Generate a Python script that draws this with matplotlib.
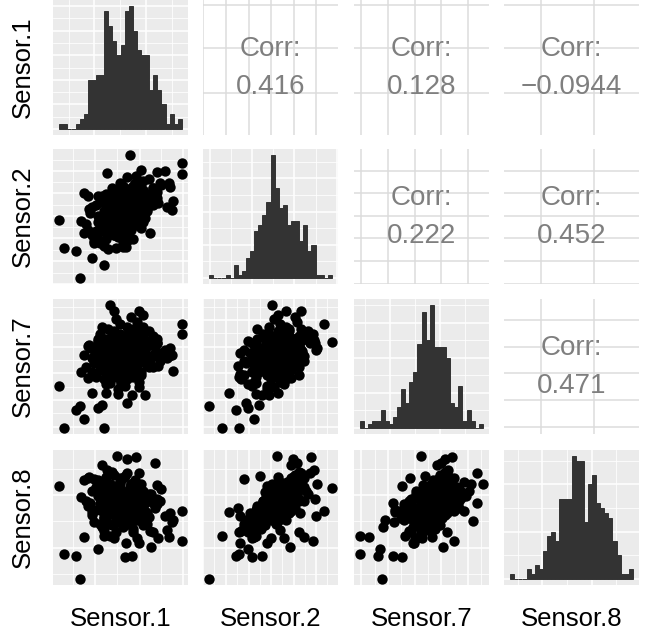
import matplotlib
matplotlib.use("Agg")
import matplotlib.pyplot as plt

plt.rcParams["font.family"] = ["Liberation Sans", "DejaVu Sans"]

labels = ["Sensor.1", "Sensor.2", "Sensor.7", "Sensor.8"]

# standardised readings, one value per sample (same order in every list)
sensor_1 = [
    0.0, 0.5, -0.6, 1.2, -1.1, 0.3, -0.2, 0.8, -0.9, 1.6,
    -1.5, 0.1, 0.6, -0.4, 1.0, -0.8, 0.2, 1.4, -0.3, 0.7,
    -1.3, 0.4, -0.1, 1.8, -0.7, 0.9, -0.5, 0.0, 1.1, -1.0,
    0.3, -0.2, 0.6, -1.7, 1.3, -0.4, 0.1, 0.8, -0.9, 0.5,
    -0.1, 1.5, -1.2, 0.2, -0.6, 1.0, -0.3, 0.7, -1.4, 0.4,
    -0.8, 1.2, 0.0, -0.5, 0.9, -0.2, 1.7, -1.0, 0.3, -0.7,
    0.6, -1.6, 1.1, -0.4, 0.2, 2.0, -0.9, 0.5, -0.1, 0.8,
    -1.2, 0.0, 1.4, -0.3, 0.6, -0.6, 1.0, -1.8, 0.4, -0.5,
    0.9, -0.2, 0.1, 1.3, -1.1, 0.7, -0.8, 0.2, 1.6, -0.4,
    0.5, -1.3, 0.0, 1.1, -0.7, 0.3, -0.1, 0.8, -1.5, 0.6,
    -2.11, -3.17, -2.91, -2.32, -2.04, -1.5, -1.2, -0.30, 0.54, 0.2,
    1.52, 3.07, 3.07, 0.45, -0.22, 0.76, 0.3, -0.56, 0.9, -0.4,
    1.1, -1.0, 0.3, -0.8, -1.7, 1.2, -0.6, 0.8, -1.9, -0.9,
    -0.7, 0.1, -1.1, -1.4, 0.2, 2.2, 1.6, 2.4, 1.0, 2.56,
    1.46, 1.80, -1.90, -0.72, 2.47, 1.97, 0.25, 1.72, -0.97, 2.64,
    2.31, -0.39, 0.87, 1.88, -1.65, 1.80,
    0.3, -0.3, 0.1, 0.7, -0.5, 0.0, 0.9, -0.8, 0.4, -0.2,
    1.1, -1.0, 0.5, -0.4, 0.2, 0.8, -0.6, 1.3, -0.1, 0.6,
    -1.2, 0.0, 0.4, -0.7, 1.0, -0.3, 0.2, 0.7, -0.9, 0.1,
    1.2, -0.5, 0.5, -0.1, 0.9, -0.7, 0.3, -1.1, 0.6, 0.0,
    1.4, -0.4, 0.2, 0.8, -0.6, 0.4, -0.2, 1.0, -0.8, 0.5,
    0.1, -0.3, 0.7, -0.9, 0.3, 1.1, -0.5, 0.6, -0.1, 0.9,
]
sensor_2 = [
    0.1, 0.6, -0.5, 0.9, -0.8, -0.2, 0.7, 0.2, 0.1, 1.3,
    -1.2, -0.9, 1.4, 0.3, -0.3, -1.4, 0.4, 0.5, -0.6, 1.0,
    0.4, -1.0, 1.6, 0.8, -0.1, 0.3, -1.1, 0.9, 1.7, -0.3,
    0.0, -0.4, -0.7, -0.9, 0.1, 1.1, -1.6, 1.2, -0.7, 0.2,
    -0.2, 0.7, -0.5, 0.6, 0.8, -0.8, 0.0, 1.5, -1.5, 0.4,
    0.2, 1.0, -0.5, 0.5, 0.0, -1.3, 1.1, 0.6, 1.9, -0.9,
    -0.1, 0.0, 0.4, -0.8, 0.8, 1.5, -1.8, 0.9, 0.3, -0.4,
    0.9, -1.1, 1.8, 0.1, 0.5, -0.3, 1.3, -0.6, -0.6, 1.3,
    0.6, -1.0, 0.0, 0.2, -0.4, 0.0, 1.0, -0.3, 0.4, -1.2,
    1.1, -1.0, 0.5, -0.5, 0.4, -0.7, 1.2, 0.8, 0.3, -1.4,
    -3.48, -0.39, -1.90, -2.03, -0.45, -2.44, -1.4, -1.90, -0.65, -1.2,
    0.84, 2.04, 2.63, 3.07, 0.13, 1.95, 1.0, -0.14, 1.4, 0.6,
    0.2, -0.8, -1.5, 0.2, 0.9, -0.3, -1.0, -0.2, -1.1, -2.8,
    -1.95, -1.85, -1.64, -1.64, -0.79, 2.22, 1.33, 1.6, 2.30, 0.14,
    -1.10, 2.18, 1.03, 2.10, 1.38, 1.56, -1.82, 1.2, 0.9, 0.6,
    0.3, -1.2, -0.4, 0.5, 0.2, 1.1,
    0.4, -0.1, 0.7, 0.3, -0.6, -0.3, 1.1, -0.2, -0.4, 0.2,
    0.7, -1.0, 1.3, 0.6, -0.8, 0.0, 0.1, 0.8, -0.7, 0.9,
    -0.2, 0.2, 1.0, -1.2, 0.5, 0.4, -0.1, -0.6, 0.5, 1.4,
    0.2, -0.9, 0.0, 0.9, -0.2, 0.3, 0.6, -0.6, 1.2, -0.5,
    1.0, -0.3, 0.3, 0.6, -0.4, 0.8, 0.0, 0.1, 0.7, -0.9,
    0.1, 0.8, 1.6, -0.8, -0.2, 1.2, 0.2, 0.4, -0.4, 0.9,
]
sensor_7 = [
    0.3, -0.3, 0.6, 0.45, -0.75, -1.35, 1.2, 0.75, 0.9, 0.15,
    0.0, -0.9, 1.8, -0.45, 1.05, -1.65, 0.0, -0.6, 1.35, 0.6,
    0.3, 0.15, 1.5, 0.9, -1.2, -1.5, 0.45, -0.75, 1.35, 1.95,
    0.9, -1.95, 0.3, 0.75, -0.3, 0.6, -1.05, 2.25, -0.15, 1.65,
    -0.6, 0.0, 1.2, -1.35, 0.15, -0.9, 2.4, 0.45, -0.3, 1.05,
    -1.05, -0.15, 0.75, 1.5, -1.8, 0.3, 1.2, -0.45, 0.9, 1.8,
    -1.2, 0.6, 1.95, -0.75, 1.35, 0.3, -1.35, -0.45, 2.1, 0.0,
    1.05, -1.5, 1.65, -0.3, 0.6, 0.0, -1.05, -0.6, 1.5, 0.9,
    1.35, -2.25, 0.45, 0.75, 1.5, -0.75, 1.2, -0.15, 1.35, 0.9,
    2.55, -1.2, -1.65, 0.6, 0.75, -0.45, 0.0, 1.8, -0.9, 1.05,
    -3.03, -1.78, -4.38, -3.28, -0.9, -2.2, -3.13, -1.2, -2.34, -1.78,
    0.8, 1.49, 2.1, 1.0, -0.59, 1.35, 0.93, 3.29, 2.91, 2.95,
    2.7, -2.93, -2.82, -2.19, -1.26, -2.3, -1.57, -0.94, -3.8, -4.38,
    -0.5, 0.3, -0.2, 0.5, -0.3, 0.5, -0.6, 0.1, 0.6, 0.2,
    -0.4, 0.9, 0.2, 1.1, 0.6, -0.2, -1.0, 0.7, 0.4, -0.8,
    0.0, -0.8, -1.1, -0.5, 0.8, 1.2,
    0.15, 0.45, 0.75, -0.15, -0.3, 1.05, 0.3, 0.15, -0.9, -1.2,
    0.9, 0.45, 1.35, 1.65, 0.6, 1.2, -0.6, -0.45, -0.3, 0.0,
    0.9, 1.35, -0.6, -0.9, 1.5, 0.75, -0.75, 0.45, 0.0, 1.05,
    0.6, 1.2, 0.3, 0.3, -1.05, 0.6, 1.95, -0.15, 0.75, -0.45,
    1.05, 1.5, -0.3, 0.15, 0.9, 1.65, 0.0, 0.75, 0.45, -0.6,
    0.9, -0.15, 1.2, 0.3, 1.35, 0.45, -0.9, 0.9, 0.6, -0.3,
]
sensor_8 = [
    0.3, 0.1, 0.0, -0.4, -0.2, -0.8, 1.1, 0.4, 0.9, 0.2,
    -0.6, -1.0, 0.9, 0.5, -0.5, -0.9, 0.7, -0.7, 0.2, 1.3,
    1.0, -0.9, 1.5, 0.0, 0.3, -0.3, -1.2, 0.6, 0.8, 0.4,
    -0.1, -0.4, -1.4, -0.1, -1.1, 1.7, -1.3, 0.5, -0.7, 1.0,
    0.1, 0.6, 0.7, 0.2, 1.2, -0.6, 0.8, 1.4, -1.0, 0.0,
    -0.5, 0.3, -0.3, 0.6, -0.8, -0.5, -0.2, 0.8, 1.8, -0.2,
    0.2, 0.1, 0.7, -1.1, 0.4, 0.9, -1.5, 1.1, 1.3, -0.9,
    1.4, -0.7, 0.6, -0.8, 0.9, 0.5, 0.3, 0.2, -0.4, 1.9,
    -0.1, -1.0, 0.4, -0.8, 0.1, -0.2, 1.6, 0.0, 0.1, -0.6,
    1.2, -0.3, 0.0, -1.2, 0.9, -0.1, 1.0, 0.2, 0.8, -1.6,
    -4.29, 1.07, -2.86, -2.95, 0.45, -0.43, -2.55, -1.6, -2.95, -3.0,
    -2.48, -2.09, -0.35, 0.97, 2.79, 2.75, 2.6, 1.18, 1.80, 0.11,
    -0.98, -1.27, -0.89, -0.31, 1.51, 0.11, -1.84, -1.94, -1.88, -1.84,
    -0.18, -0.66, -1.13, 1.45, 1.64, -0.66, -1.58, -1.9, 1.17, -1.0,
    -1.5, 0.3, 1.4, 2.0, -0.5, 0.2, -2.2, 2.37, 2.28, -0.89,
    -1.46, -1.94, -2.22, -1.94, 1.6, 1.13,
    0.2, -0.2, 0.6, -0.3, -0.5, 0.1, 0.5, 0.4, -0.6, 0.0,
    0.0, -0.4, 1.2, 0.9, -0.7, -0.1, 0.7, -0.5, -0.9, 0.8,
    0.5, 0.3, 0.4, -1.1, 0.3, 1.0, -0.4, -0.8, 1.1, 1.5,
    -0.6, -0.3, 0.0, 1.2, -0.9, 0.2, 0.7, 0.0, 0.9, -0.6,
    0.4, 0.3, 0.5, 0.1, -0.1, 0.8, -0.3, -0.4, 1.3, -1.2,
    0.6, 0.9, 1.0, -0.8, -0.2, 0.2, 0.6, 0.5, -0.5, 0.7,
]
sensors = [sensor_1, sensor_2, sensor_7, sensor_8]

# bar heights of the 30-bin histograms on the diagonal
counts_1 = [1, 1, 0, 0, 1, 2, 3, 10, 10, 11, 11, 24, 21, 18, 15,
            17, 24, 25, 20, 16, 15, 15, 8, 11, 8, 5, 1, 3, 1, 2]
counts_2 = [1, 0, 0, 0, 1, 0, 4, 1, 2, 6, 8, 14, 16, 19, 23,
            37, 27, 21, 22, 16, 17, 17, 11, 16, 8, 10, 1, 1, 0, 1]
counts_7 = [2, 0, 1, 2, 2, 5, 2, 1, 3, 6, 11, 7, 13, 16, 24,
            33, 25, 35, 23, 23, 23, 20, 7, 6, 12, 2, 5, 2, 0, 1]
counts_8 = [1, 0, 0, 0, 2, 1, 3, 2, 6, 9, 10, 8, 17, 17, 17,
            26, 25, 25, 12, 20, 22, 16, 15, 14, 13, 8, 5, 1, 1, 2]
counts = [counts_1, counts_2, counts_7, counts_8]

# pairwise correlations shown in the upper triangle
corr_pairs = [(0, 1), (0, 2), (0, 3), (1, 2), (1, 3), (2, 3)]
corr_values = [0.416, 0.128, -0.0944, 0.222, 0.452, 0.471]

# major break positions for each variable
scatter_breaks = [
    [-1.35, 0.92, 3.14],
    [-3.8, -2.59, -1.36, -0.17, 1.03, 2.22],
    [-4.3, -2.64, -0.97, 0.70, 2.37],
    [-2.49, 0.53],
]
diag_breaks = [
    [-1.43, 1.28],
    [-3.56, -1.22, 1.11, 3.45],
    [-2.57, 0.65],
    [-2.49, 0.45],
]
count_step = [5, 10, 10, 10]

PANEL_BG = "#EBEBEB"
BAR = "#333333"
W, H = 651, 634
col_left = [53, 203, 354, 504]
row_top = [0, 149, 299, 450]
pw, ph = 135, 135


def expand(lo, hi, mult=0.05):
    pad = mult * (hi - lo)
    return lo - pad, hi + pad


def minors(major, lim):
    step = major[1] - major[0]
    cand = [major[0] - step / 2] + [(a + b) / 2 for a, b in zip(major[:-1], major[1:])]
    cand.append(major[-1] + step / 2)
    return [c for c in cand if lim[0] <= c <= lim[1]]


def keep(vals, lim):
    return [v for v in vals if lim[0] <= v <= lim[1]]


def style(ax, bg):
    ax.set_facecolor(bg)
    for s in ax.spines.values():
        s.set_visible(False)
    ax.tick_params(which="both", length=0, labelbottom=False, labelleft=False)
    ax.set_axisbelow(True)


def grey_grid(ax, xmaj, xlim, ymaj, ylim):
    ax.set_xticks(keep(xmaj, xlim))
    ax.set_xticks(minors(xmaj, xlim), minor=True)
    ax.set_yticks(keep(ymaj, ylim))
    ax.set_yticks(minors(ymaj, ylim), minor=True)
    ax.grid(which="major", color="white", linewidth=1.1)
    ax.grid(which="minor", color="white", linewidth=0.55)


fig = plt.figure(figsize=(W / 100, H / 100), dpi=100)

lims = [expand(min(v), max(v)) for v in sensors]

for i in range(4):
    for j in range(4):
        ax = fig.add_axes([col_left[j] / W, 1 - (row_top[i] + ph) / H, pw / W, ph / H])
        if i == j:
            style(ax, PANEL_BG)
            lo, hi = min(sensors[i]), max(sensors[i])
            nb = len(counts[i])
            w = (hi - lo) / (nb - 1)
            edges = [lo - w / 2 + k * w for k in range(nb)]
            ax.bar(edges, counts[i], width=w, align="edge", color=BAR,
                   edgecolor=BAR, linewidth=0.7)
            xlim = expand(edges[0], edges[-1] + w)
            cmax = max(counts[i])
            ylim = expand(0, cmax)
            step = count_step[i]
            ymaj = [k * step for k in range(0, int(cmax // step) + 2)]
            grey_grid(ax, diag_breaks[i], xlim, ymaj, ylim)
            ax.set_xlim(xlim)
            ax.set_ylim(ylim)
        elif i > j:
            style(ax, PANEL_BG)
            ax.scatter(sensors[j], sensors[i], s=56, c="black", linewidths=0)
            grey_grid(ax, scatter_breaks[j], lims[j], scatter_breaks[i], lims[i])
            ax.set_xlim(lims[j])
            ax.set_ylim(lims[i])
        else:
            style(ax, "white")
            ax.set_xlim(lims[j])
            ax.set_ylim(lims[i])
            ax.set_xticks(keep(scatter_breaks[j], lims[j]))
            ax.set_yticks(keep(scatter_breaks[i], lims[i]))
            ax.grid(which="major", color="#DCDCDC", linewidth=1.1)
            r = corr_values[corr_pairs.index((i, j))]
            txt = f"{r}".replace("-", "\u2212")
            ax.text(0.5, 0.64, "Corr:", transform=ax.transAxes, ha="center",
                    va="center", fontsize=20, color="#7F7F7F")
            ax.text(0.5, 0.355, txt, transform=ax.transAxes, ha="center",
                    va="center", fontsize=20, color="#7F7F7F")

for i, name in enumerate(labels):
    fig.text(23 / W, 1 - (row_top[i] + ph / 2) / H, name, rotation=90,
             ha="center", va="center", fontsize=18.5)
    fig.text((col_left[i] + pw / 2) / W, 1 - 626 / H, name,
             ha="center", va="baseline", fontsize=18.5)

fig.savefig("out.png", dpi=100)
